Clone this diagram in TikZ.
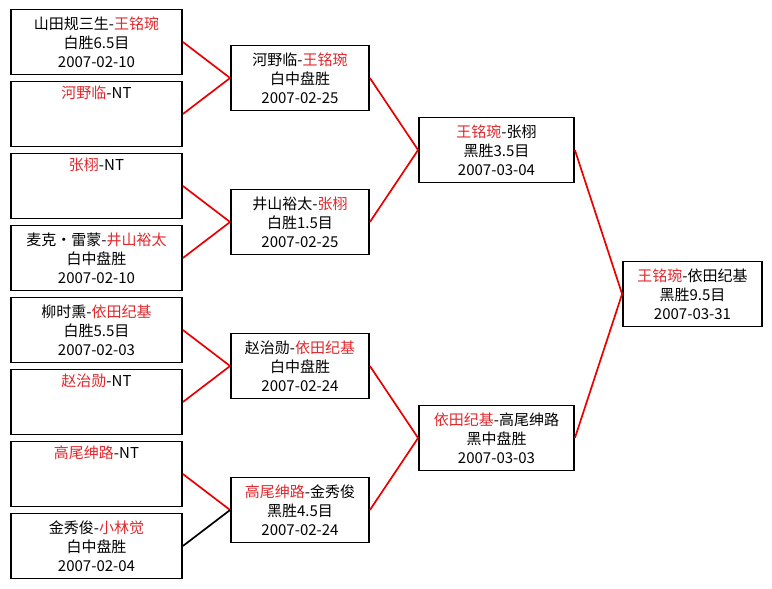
\documentclass[tikz,border=0pt]{standalone}
\usepackage{fontspec}
\setmainfont{Noto Sans CJK SC}
\definecolor{winred}{RGB}{225,40,45}
\definecolor{linkred}{RGB}{235,0,0}
\newcommand{\wn}[1]{\textcolor{winred}{#1}}
\tikzset{
  game/.style={draw, line width=1.8pt, minimum width=#1, minimum height=65pt,
    inner sep=0pt, align=center, font=\fontsize{15}{19}\selectfont},
  link/.style={linkred, line width=1.7pt},
  lostlink/.style={black, line width=1.7pt},
}
\begin{document}
\begin{tikzpicture}[x=1pt, y=-1pt]

\useasboundingbox[fill=white] (0,0) rectangle (772,589);

%--- first round ---
\node[game=171] (q1) at (96.5,42) {山田规三生-\wn{王铭琬}\\白胜6.5目\\2007-02-10};
\node[game=171] (q2) at (96.5,114) {\wn{河野临}-NT\\\strut\\\strut};
\node[game=171] (q3) at (96.5,186) {\wn{张栩}-NT\\\strut\\\strut};
\node[game=171] (q4) at (96.5,258) {麦克・雷蒙-\wn{井山裕太}\\白中盘胜\\2007-02-10};
\node[game=171] (q5) at (96.5,330) {柳时熏-\wn{依田纪基}\\白胜5.5目\\2007-02-03};
\node[game=171] (q6) at (96.5,402) {\wn{赵治勋}-NT\\\strut\\\strut};
\node[game=171] (q7) at (96.5,474) {\wn{高尾绅路}-NT\\\strut\\\strut};
\node[game=171] (q8) at (96.5,546) {金秀俊-\wn{小林觉}\\白中盘胜\\2007-02-04};

%--- second round ---
\node[game=138] (s1) at (300,78) {河野临-\wn{王铭琬}\\白中盘胜\\2007-02-25};
\node[game=138] (s2) at (300,222) {井山裕太-\wn{张栩}\\白胜1.5目\\2007-02-25};
\node[game=138] (s3) at (300,366) {赵治勋-\wn{依田纪基}\\白中盘胜\\2007-02-24};
\node[game=138] (s4) at (300,510) {\wn{高尾绅路}-金秀俊\\黑胜4.5目\\2007-02-24};

%--- semi-finals ---
\node[game=155] (f1) at (496.5,150) {\wn{王铭琬}-张栩\\黑胜3.5目\\2007-03-04};
\node[game=155] (f2) at (496.5,438) {\wn{依田纪基}-高尾绅路\\黑中盘胜\\2007-03-03};

%--- final ---
\node[game=139] (fin) at (692.5,294) {\wn{王铭琬}-依田纪基\\黑胜9.5目\\2007-03-31};

%--- connectors ---
\foreach \a/\b in {q1/s1,q2/s1,q3/s2,q4/s2,q5/s3,q6/s3,q7/s4,
                   s1/f1,s2/f1,s3/f2,s4/f2,f1/fin,f2/fin}{
  \draw[link] (\a.east) -- (\b.west);
}
\draw[lostlink] (q8.east) -- (s4.west);

\end{tikzpicture}
\end{document}
